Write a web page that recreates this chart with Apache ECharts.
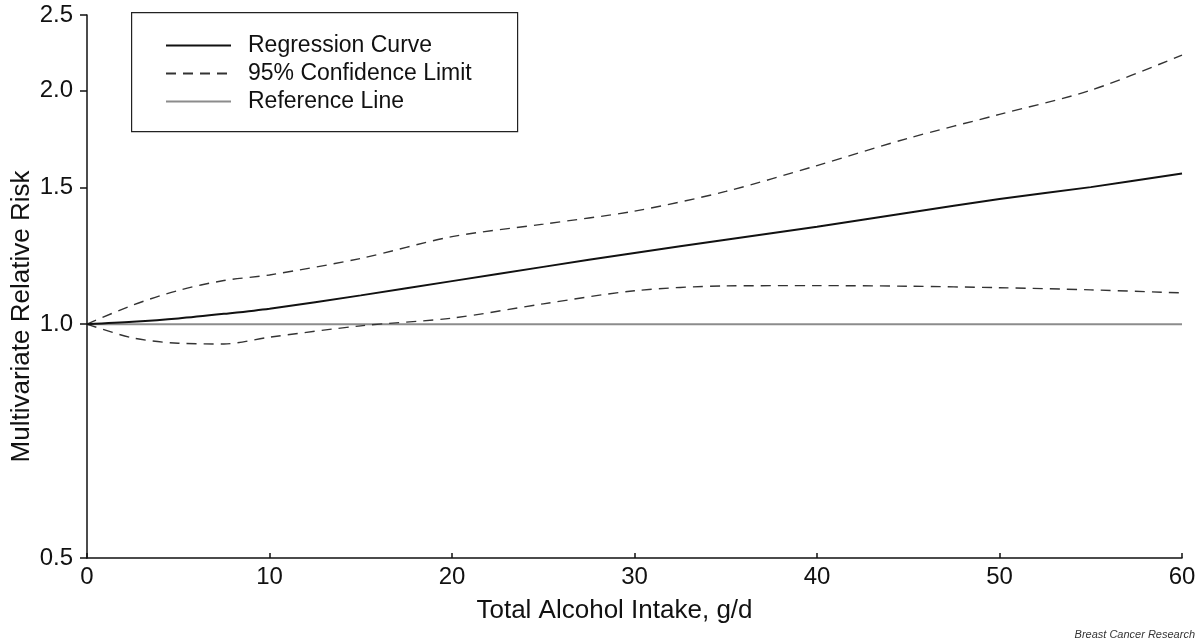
<!DOCTYPE html>
<html>
<head>
<meta charset="utf-8">
<script src="https://cdn.jsdelivr.net/npm/echarts@6/dist/echarts.min.js"></script>
<style>
  html, body { margin: 0; padding: 0; background: #ffffff; }
  #chart { width: 1200px; height: 641px; }
</style>
</head>
<body>
<div id="chart"></div>
<script>
// Total alcohol intake (g/d)
const intake = [0, 2.5, 5, 7.5, 10, 15, 20, 25, 30, 35, 40, 45, 50, 55, 60];
// Multivariate relative risk, regression curve
const regression = [1.000, 1.007, 1.017, 1.031, 1.047, 1.089, 1.136, 1.185, 1.235, 1.284, 1.335, 1.391, 1.449, 1.501, 1.563];
// 95% confidence limits
const upperCI = [1.000, 1.058, 1.105, 1.138, 1.157, 1.215, 1.296, 1.345, 1.398, 1.482, 1.600, 1.735, 1.862, 2.000, 2.220];
const lowerCI = [1.000, 0.960, 0.945, 0.943, 0.962, 0.995, 1.018, 1.062, 1.104, 1.120, 1.121, 1.119, 1.114, 1.107, 1.097];
// Reference line
const refX = [0, 60];
const refY = [1.0, 1.0];
// Tick labels
const xTicks = [0, 10, 20, 30, 40, 50, 60];
const yTicks = [0.5, 1.0, 1.5, 2.0, 2.5];

const pairs = (xs, ys) => xs.map((x, i) => [x, ys[i]]);
const FONT = '"Liberation Sans", Arial, Helvetica, sans-serif';

const chart = echarts.init(document.getElementById('chart'), null, { renderer: 'canvas' });
chart.setOption({
  animation: false,
  backgroundColor: '#ffffff',
  grid: { left: 87, right: 18, top: 15, bottom: 83, outerBoundsMode: 'none', containLabel: false },
  graphic: [
    {
      type: 'rect',
      left: 131, top: 12,
      shape: { width: 386, height: 119 },
      style: { fill: '#ffffff', stroke: '#222', lineWidth: 1.2 },
      z: 5
    },
    {
      type: 'text',
      right: 5, bottom: 1,
      style: {
        text: 'Breast Cancer Research',
        font: 'italic 11px ' + FONT,
        fill: '#333'
      }
    }
  ],
  legend: {
    orient: 'vertical',
    left: 165, top: 34,
    padding: 0,
    itemGap: 5,
    itemWidth: 65,
    itemHeight: 23,
    z: 10,
    itemStyle: { opacity: 0 },
    data: ['Regression Curve', '95% Confidence Limit', 'Reference Line'],
    textStyle: { fontFamily: FONT, fontSize: 23, color: '#111', padding: [0, 0, 0, 12] }
  },
  xAxis: {
    type: 'value',
    min: 0, max: 60, interval: 10,
    name: 'Total Alcohol Intake, g/d',
    nameLocation: 'middle',
    nameGap: 40,
    nameMoveOverlap: false,
    nameTextStyle: { fontFamily: FONT, fontSize: 26, color: '#111', padding: [0, 40, 0, 0] },
    axisLine: { show: true, lineStyle: { color: '#111', width: 1.5 } },
    axisTick: { show: true, inside: true, length: 5, lineStyle: { color: '#111', width: 1.5 }, customValues: xTicks },
    axisLabel: { fontFamily: FONT, fontSize: 24, color: '#111', margin: 7, customValues: xTicks },
    splitLine: { show: false }
  },
  yAxis: {
    type: 'log',
    logBase: 10,
    min: 0.5, max: 2.5,
    name: 'Multivariate Relative Risk',
    nameLocation: 'middle',
    nameGap: 52,
    nameRotate: 90,
    nameMoveOverlap: false,
    nameTextStyle: { fontFamily: FONT, fontSize: 26, color: '#111', padding: [0, 60, 0, 0] },
    axisLine: { show: true, lineStyle: { color: '#111', width: 1.5 } },
    axisTick: { show: true, inside: false, length: 7, lineStyle: { color: '#111', width: 1.5 }, customValues: yTicks },
    axisLabel: {
      fontFamily: FONT, fontSize: 24, color: '#111', margin: 14,
      customValues: yTicks,
      formatter: v => Number(v).toFixed(1)
    },
    splitLine: { show: false },
    minorTick: { show: false }
  },
  series: [
    {
      name: 'Reference Line',
      type: 'line',
      data: pairs(refX, refY),
      symbol: 'none',
      itemStyle: { color: '#8c8c8c' },
      lineStyle: { color: '#8c8c8c', width: 2 },
      z: 1
    },
    {
      name: 'Regression Curve',
      type: 'line',
      data: pairs(intake, regression),
      symbol: 'none',
      smooth: 0.3,
      itemStyle: { color: '#111' },
      lineStyle: { color: '#111', width: 2 },
      z: 3
    },
    {
      name: '95% Confidence Limit',
      type: 'line',
      data: pairs(intake, upperCI),
      symbol: 'none',
      smooth: 0.3,
      itemStyle: { color: '#333' },
      lineStyle: { color: '#333', width: 1.4, type: [10, 7] },
      z: 2
    },
    {
      name: '95% Confidence Limit',
      type: 'line',
      data: pairs(intake, lowerCI),
      symbol: 'none',
      smooth: 0.3,
      itemStyle: { color: '#333' },
      lineStyle: { color: '#333', width: 1.4, type: [10, 7] },
      z: 2
    }
  ]
});
</script>
</body>
</html>
